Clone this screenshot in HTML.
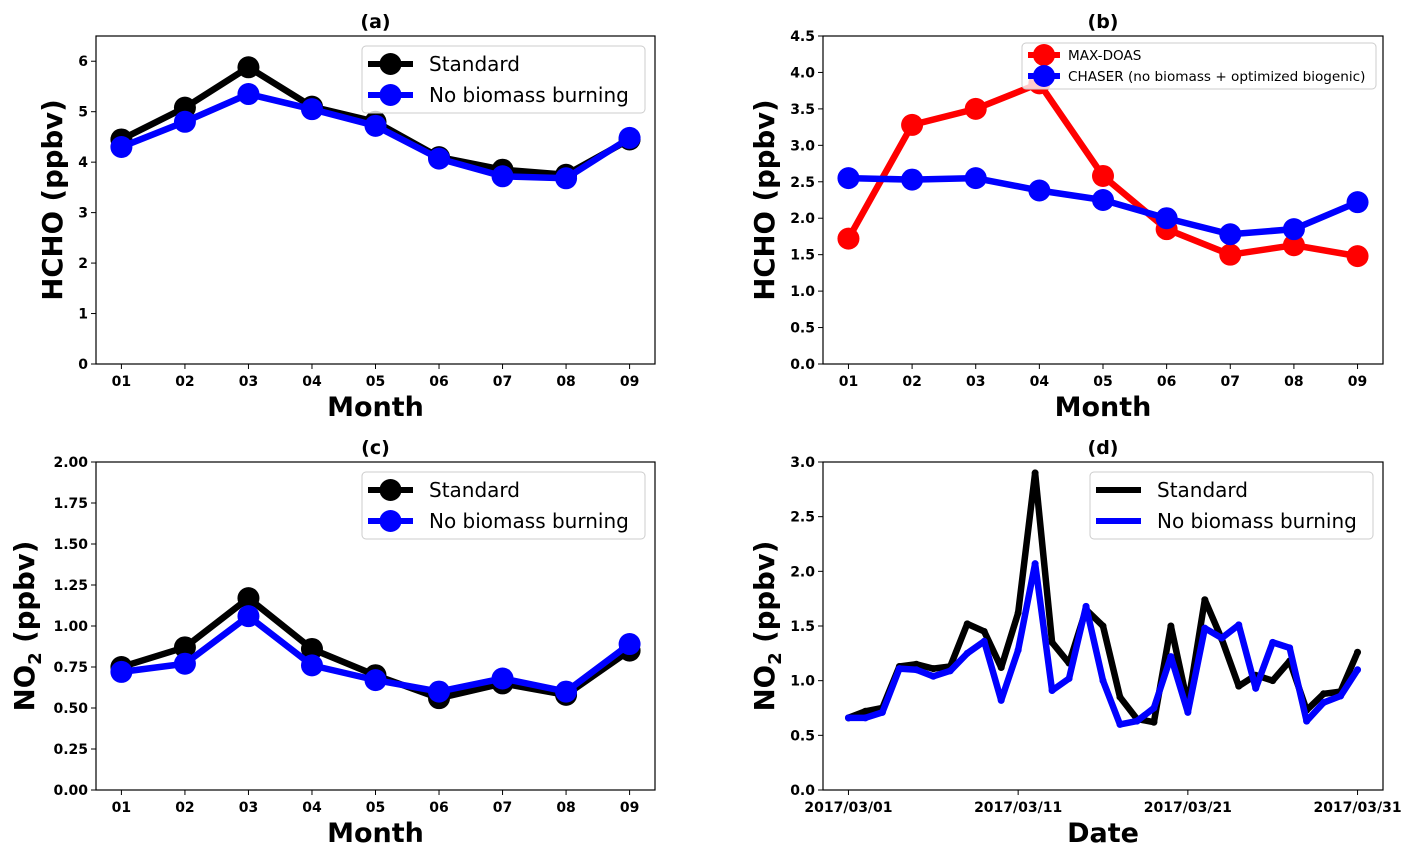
<!DOCTYPE html>
<html><head><meta charset="utf-8"><style>
body{margin:0;background:#fff;}
svg{display:block;font-family:"DejaVu Sans","Liberation Sans",sans-serif;}
</style></head><body>
<svg id="fig" width="1417" height="854" xmlns="http://www.w3.org/2000/svg"></svg>
<script>
const months = ['01','02','03','04','05','06','07','08','09'];
const aStandard = [4.45,5.08,5.88,5.10,4.80,4.10,3.85,3.75,4.45];
const aNoBB = [4.30,4.80,5.35,5.05,4.72,4.07,3.72,3.68,4.48];
const bMaxDoas = [1.72,3.28,3.50,3.85,2.58,1.85,1.50,1.63,1.48];
const bChaser = [2.55,2.53,2.55,2.38,2.25,2.00,1.78,1.85,2.22];
const cStandard = [0.75,0.87,1.17,0.86,0.70,0.56,0.65,0.58,0.85];
const cNoBB = [0.72,0.77,1.06,0.76,0.67,0.60,0.68,0.60,0.89];
const dStandard = [0.66,0.72,0.75,1.13,1.15,1.11,1.13,1.52,1.45,1.12,1.62,2.90,1.35,1.16,1.65,1.50,0.85,0.65,0.62,1.50,0.78,1.74,1.38,0.95,1.05,1.00,1.18,0.73,0.88,0.90,1.26];
const dNoBB = [0.66,0.66,0.71,1.11,1.10,1.04,1.09,1.25,1.36,0.82,1.28,2.07,0.91,1.02,1.68,1.00,0.60,0.63,0.75,1.22,0.71,1.48,1.39,1.51,0.93,1.35,1.30,0.63,0.80,0.86,1.10];
const aTicks = [0,1,2,3,4,5,6];
const bTicks = [0,0.5,1,1.5,2,2.5,3,3.5,4,4.5];
const cTicks = [0,0.25,0.5,0.75,1,1.25,1.5,1.75,2];
const dTicks = [0,0.5,1,1.5,2,2.5,3];
const dDateTicks = [0,10,20,30];
const dDateLabels = ['2017/03/01','2017/03/11','2017/03/21','2017/03/31'];

const NS='http://www.w3.org/2000/svg';
const svg=document.getElementById('fig');
function mk(tag,attrs,parent,text){const e=document.createElementNS(NS,tag);for(const k in attrs)e.setAttribute(k,attrs[k]);if(text!==undefined)e.textContent=text;(parent||svg).appendChild(e);return e;}

function panel(o){
  const g=mk('g',{});
  
  
  const X=v=>o.x0+(v-o.xmin)/(o.xmax-o.xmin)*(o.x1-o.x0);
  const Y=v=>o.y1-(v-o.ymin)/(o.ymax-o.ymin)*(o.y1-o.y0);
  o.yticks.forEach(t=>{
    const y=Y(t);
    mk('line',{x1:o.x0-5,x2:o.x0,y1:y,y2:y,stroke:'#000','stroke-width':1},g);
    const tl=mk('text',{x:o.x0-8,y:y+5,'text-anchor':'end','font-size':14,'font-weight':'bold'},g,o.yfmt(t));
    
    
  });
  o.xticks.forEach((t,i)=>{
    const x=X(t);
    mk('line',{x1:x,x2:x,y1:o.y1,y2:o.y1+5,stroke:'#000','stroke-width':1},g);
    const tl=mk('text',{x:x,y:o.y1+22,'text-anchor':'middle','font-size':14,'font-weight':'bold'},g,o.xlabels[i]);
    
    
  });
  o.series.forEach(s=>{
    const pts=s.data.map((v,i)=>X(s.xs?s.xs[i]:i)+','+Y(v)).join(' ');
    const pl=mk('polyline',{points:pts,fill:'none',stroke:s.color,'stroke-width':6.5,'stroke-linejoin':'round'},g);
    
    
    s.data.forEach((v,i)=>{
      const c=mk('circle',{cx:X(s.xs?s.xs[i]:i),cy:Y(v),r:s.r,fill:s.color},g);
      
      
    });
  });
  const fr=mk('rect',{x:o.x0,y:o.y0,width:o.x1-o.x0,height:o.y1-o.y0,fill:'none',stroke:'#000','stroke-width':1.2},g);
  
  
  const ti=mk('text',{x:(o.x0+o.x1)/2,y:o.y0-8,'text-anchor':'middle','font-size':19,'font-weight':'bold'},g,o.title);
  
  
  const xl=mk('text',{x:(o.x0+o.x1)/2,y:o.y1+52,'text-anchor':'middle','font-size':27,'font-weight':'bold'},g,o.xlabel);
  
  
  const cy=(o.y0+o.y1)/2;
  const yl=mk('text',{x:o.ylx,y:cy,'text-anchor':'middle','font-size':27.5,'font-weight':'bold',transform:`rotate(-90 ${o.ylx} ${cy})`},g);
  
  
  if(o.no2){mk('tspan',{},yl,'NO');mk('tspan',{'font-size':18,dy:7},yl,'2');mk('tspan',{dy:-7},yl,' (ppbv)');}
  else yl.textContent=o.ylabel;
  const L=o.legend;
  const lg=mk('g',{},g);
  
  
  mk('rect',{x:L.x,y:L.y,width:L.w,height:L.h,rx:4,fill:'#fff','fill-opacity':0.8,stroke:'#ccc','stroke-width':1},lg);
  o.series.forEach((s,i)=>{
    const yy=L.y+L.pad+i*L.dy;
    const e=mk('g',{},lg);
    
    
    mk('line',{x1:L.x+6,x2:L.x+6+L.len,y1:yy,y2:yy,stroke:s.color,'stroke-width':L.lw},e);
    mk('circle',{cx:L.x+6+L.len/2,cy:yy,r:L.mr,fill:s.color},e);
    mk('text',{x:L.x+L.len+L.gap,y:yy+L.fs*0.36,'font-size':L.fs},e,s.label);
  });
}
const mx={xmin:-0.4,xmax:8.4,xticks:[0,1,2,3,4,5,6,7,8],xlabels:months,xlabel:'Month'};
panel(Object.assign({},mx,{name:'panel-a',x0:96,x1:655,y0:36,y1:364,ymin:0,ymax:6.5,yticks:aTicks,yfmt:t=>String(t),title:'(a)',ylabel:'HCHO (ppbv)',ylx:62,
 series:[{name:'standard',label:'Standard',color:'#000',data:aStandard,r:11},{name:'no-biomass',label:'No biomass burning',color:'#0000ff',data:aNoBB,r:11}],
 legend:{x:362,y:46,w:283,h:67,pad:18,dy:31,len:45,lw:6,mr:11,fs:20,gap:22}}));
panel(Object.assign({},mx,{name:'panel-b',x0:823,x1:1383,y0:36,y1:364,ymin:0,ymax:4.5,yticks:bTicks,yfmt:t=>t.toFixed(1),title:'(b)',ylabel:'HCHO (ppbv)',ylx:774,
 series:[{name:'max-doas',label:'MAX-DOAS',color:'#ff0000',data:bMaxDoas,r:11},{name:'chaser',label:'CHASER (no biomass + optimized biogenic)',color:'#0000ff',data:bChaser,r:11}],
 legend:{x:1022,y:43,w:354,h:46,pad:12,dy:21,len:32,lw:6,mr:11,fs:13.6,gap:14}}));
panel(Object.assign({},mx,{name:'panel-c',x0:96,x1:655,y0:462,y1:790,ymin:0,ymax:2,yticks:cTicks,yfmt:t=>t.toFixed(2),title:'(c)',no2:true,ylx:34,
 series:[{name:'standard',label:'Standard',color:'#000',data:cStandard,r:11},{name:'no-biomass',label:'No biomass burning',color:'#0000ff',data:cNoBB,r:11}],
 legend:{x:362,y:472,w:283,h:67,pad:18,dy:31,len:45,lw:6,mr:11,fs:20,gap:22}}));
const days=dStandard.map((_,i)=>i);
panel({name:'panel-d',x0:823,x1:1383,y0:462,y1:790,xmin:-1.5,xmax:31.5,ymin:0,ymax:3,xticks:dDateTicks,xlabels:dDateLabels,xlabel:'Date',yticks:dTicks,yfmt:t=>t.toFixed(1),title:'(d)',no2:true,ylx:774,
 series:[{name:'standard',label:'Standard',color:'#000',data:dStandard,xs:days,r:3.5},{name:'no-biomass',label:'No biomass burning',color:'#0000ff',data:dNoBB,xs:days,r:3.5}],
 legend:{x:1090,y:472,w:283,h:67,pad:18,dy:31,len:45,lw:6,mr:3,fs:20,gap:22}});
</script>
</body></html>
